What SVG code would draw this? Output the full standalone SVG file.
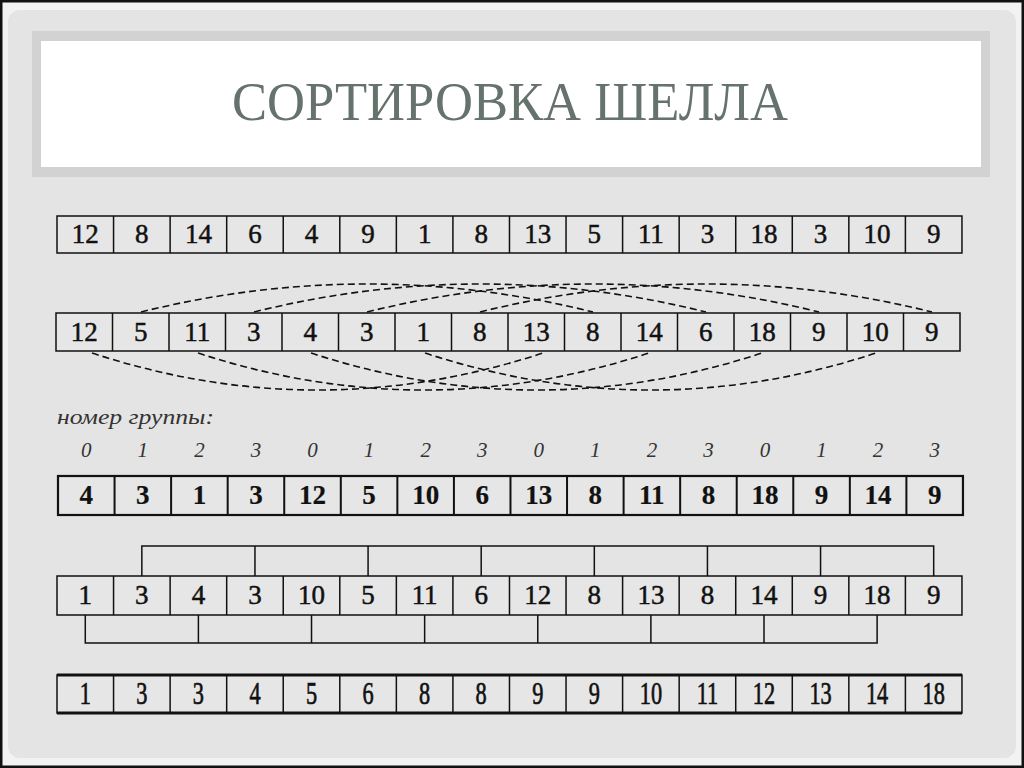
<svg xmlns="http://www.w3.org/2000/svg" width="1024" height="768" viewBox="0 0 1024 768">
<defs>
<style>
.cell{fill:#e6e6e6;stroke:#111;stroke-width:1.5}
.num{font-family:"Liberation Serif","Times New Roman",serif;font-size:27px;fill:#111;stroke:#111;stroke-width:0.5;text-anchor:middle}
.b{font-weight:bold;stroke-width:0.2}
.n5{font-family:"Liberation Serif","Times New Roman",serif;font-size:31px;fill:#111;stroke:#111;stroke-width:0.7;text-anchor:middle}
.grp{font-family:"Liberation Serif","Times New Roman",serif;font-style:italic;font-size:21px;fill:#333;text-anchor:middle}
.dash{fill:none;stroke:#111;stroke-width:1.6;stroke-dasharray:7 4}
.br{fill:none;stroke:#111;stroke-width:1.5}
.thick{stroke:#111;stroke-width:3}
</style>
</defs>
<rect x="0" y="0" width="1024" height="768" fill="#f2f2f2"/>
<rect x="1" y="1" width="1022" height="766" fill="none" stroke="#111" stroke-width="3"/>
<rect x="8" y="10" width="1008" height="748" rx="12" fill="#e4e4e4"/>
<g id="title">
<rect x="32" y="31" width="958" height="146" fill="#d2d2d2"/>
<rect x="41" y="41" width="940" height="126" fill="#ffffff"/>
<text x="510" y="120" text-anchor="middle" textLength="556" lengthAdjust="spacingAndGlyphs" style="font-family:'Liberation Serif','Times New Roman',serif;font-size:55px;fill:#66726c">СОРТИРОВКА ШЕЛЛА</text>
</g>

<g id="row1">
<rect class="cell" x="57" y="216" width="904.96" height="37"/>
<path class="br" d="M113.56,216V253M170.12,216V253M226.68,216V253M283.24,216V253M339.8,216V253M396.36,216V253M452.92,216V253M509.48,216V253M566.04,216V253M622.6,216V253M679.16,216V253M735.72,216V253M792.28,216V253M848.84,216V253M905.4,216V253"/>
<text class="num" x="85.28" y="243">12</text>
<text class="num" x="141.84" y="243">8</text>
<text class="num" x="198.4" y="243">14</text>
<text class="num" x="254.96" y="243">6</text>
<text class="num" x="311.52" y="243">4</text>
<text class="num" x="368.08" y="243">9</text>
<text class="num" x="424.64" y="243">1</text>
<text class="num" x="481.2" y="243">8</text>
<text class="num" x="537.76" y="243">13</text>
<text class="num" x="594.32" y="243">5</text>
<text class="num" x="650.88" y="243">11</text>
<text class="num" x="707.44" y="243">3</text>
<text class="num" x="764" y="243">18</text>
<text class="num" x="820.56" y="243">3</text>
<text class="num" x="877.12" y="243">10</text>
<text class="num" x="933.68" y="243">9</text>
</g>

<g id="row2">
<rect class="cell" x="56" y="313" width="904" height="38"/>
<path class="br" d="M112.5,313V351M169,313V351M225.5,313V351M282,313V351M338.5,313V351M395,313V351M451.5,313V351M508,313V351M564.5,313V351M621,313V351M677.5,313V351M734,313V351M790.5,313V351M847,313V351M903.5,313V351"/>
<text class="num" x="84.25" y="341">12</text>
<text class="num" x="140.75" y="341">5</text>
<text class="num" x="197.25" y="341">11</text>
<text class="num" x="253.75" y="341">3</text>
<text class="num" x="310.25" y="341">4</text>
<text class="num" x="366.75" y="341">3</text>
<text class="num" x="423.25" y="341">1</text>
<text class="num" x="479.75" y="341">8</text>
<text class="num" x="536.25" y="341">13</text>
<text class="num" x="592.75" y="341">8</text>
<text class="num" x="649.25" y="341">14</text>
<text class="num" x="705.75" y="341">6</text>
<text class="num" x="762.25" y="341">18</text>
<text class="num" x="818.75" y="341">9</text>
<text class="num" x="875.25" y="341">10</text>
<text class="num" x="931.75" y="341">9</text>
</g>

<g id="arcs">
<path class="dash" d="M141,312 Q367,256 593,312"/>
<path class="dash" d="M254,312 Q480,256 706,312"/>
<path class="dash" d="M367,312 Q593,256 819,312"/>
<path class="dash" d="M480,312 Q706,256 932,312"/>
<path class="dash" d="M92,353 Q317,427 543,353"/>
<path class="dash" d="M198,353 Q424,427 649,353"/>
<path class="dash" d="M311,353 Q537,427 762,353"/>
<path class="dash" d="M425,353 Q651,427 876,353"/>
</g>

<g id="groups-label">
<text x="57" y="424" textLength="157" lengthAdjust="spacingAndGlyphs" style="font-family:'Liberation Serif','Times New Roman',serif;font-style:italic;font-size:21px;fill:#333">номер группы:</text>
<text class="grp" x="86.28" y="457">0</text>
<text class="grp" x="142.84" y="457">1</text>
<text class="grp" x="199.4" y="457">2</text>
<text class="grp" x="255.96" y="457">3</text>
<text class="grp" x="312.52" y="457">0</text>
<text class="grp" x="369.08" y="457">1</text>
<text class="grp" x="425.64" y="457">2</text>
<text class="grp" x="482.2" y="457">3</text>
<text class="grp" x="538.76" y="457">0</text>
<text class="grp" x="595.32" y="457">1</text>
<text class="grp" x="651.88" y="457">2</text>
<text class="grp" x="708.44" y="457">3</text>
<text class="grp" x="765" y="457">0</text>
<text class="grp" x="821.56" y="457">1</text>
<text class="grp" x="878.12" y="457">2</text>
<text class="grp" x="934.68" y="457">3</text>
</g>

<g id="row3">
<rect class="cell" x="58" y="476" width="904.96" height="39" style="stroke-width:2.2"/>
<path class="br" style="stroke-width:2" d="M114.56,476V515M171.12,476V515M227.68,476V515M284.24,476V515M340.8,476V515M397.36,476V515M453.92,476V515M510.48,476V515M567.04,476V515M623.6,476V515M680.16,476V515M736.72,476V515M793.28,476V515M849.84,476V515M906.4,476V515"/>
<text class="num b" x="86.28" y="504">4</text>
<text class="num b" x="142.84" y="504">3</text>
<text class="num b" x="199.4" y="504">1</text>
<text class="num b" x="255.96" y="504">3</text>
<text class="num b" x="312.52" y="504">12</text>
<text class="num b" x="369.08" y="504">5</text>
<text class="num b" x="425.64" y="504">10</text>
<text class="num b" x="482.2" y="504">6</text>
<text class="num b" x="538.76" y="504">13</text>
<text class="num b" x="595.32" y="504">8</text>
<text class="num b" x="651.88" y="504">11</text>
<text class="num b" x="708.44" y="504">8</text>
<text class="num b" x="765" y="504">18</text>
<text class="num b" x="821.56" y="504">9</text>
<text class="num b" x="878.12" y="504">14</text>
<text class="num b" x="934.68" y="504">9</text>
</g>

<g id="brackets">
<path class="br" d="M141.84,576V546H933.68V576M254.96,546V576M368.08,546V576M481.2,546V576M594.32,546V576M707.44,546V576M820.56,546V576"/>
<path class="br" d="M85.28,615V643H877.12V615M198.4,643V615M311.52,643V615M424.64,643V615M537.76,643V615M650.88,643V615M764,643V615"/>
</g>

<g id="row4">
<rect class="cell" x="57" y="576" width="904.96" height="39"/>
<path class="br" d="M113.56,576V615M170.12,576V615M226.68,576V615M283.24,576V615M339.8,576V615M396.36,576V615M452.92,576V615M509.48,576V615M566.04,576V615M622.6,576V615M679.16,576V615M735.72,576V615M792.28,576V615M848.84,576V615M905.4,576V615"/>
<text class="num" x="85.28" y="604">1</text>
<text class="num" x="141.84" y="604">3</text>
<text class="num" x="198.4" y="604">4</text>
<text class="num" x="254.96" y="604">3</text>
<text class="num" x="311.52" y="604">10</text>
<text class="num" x="368.08" y="604">5</text>
<text class="num" x="424.64" y="604">11</text>
<text class="num" x="481.2" y="604">6</text>
<text class="num" x="537.76" y="604">12</text>
<text class="num" x="594.32" y="604">8</text>
<text class="num" x="650.88" y="604">13</text>
<text class="num" x="707.44" y="604">8</text>
<text class="num" x="764" y="604">14</text>
<text class="num" x="820.56" y="604">9</text>
<text class="num" x="877.12" y="604">18</text>
<text class="num" x="933.68" y="604">9</text>
</g>

<g id="row5">
<rect class="cell" x="57" y="675" width="904.96" height="38"/>
<path class="thick" d="M57,675H962M57,713H962"/>
<path class="br" d="M113.56,675V713M170.12,675V713M226.68,675V713M283.24,675V713M339.8,675V713M396.36,675V713M452.92,675V713M509.48,675V713M566.04,675V713M622.6,675V713M679.16,675V713M735.72,675V713M792.28,675V713M848.84,675V713M905.4,675V713"/>
<text class="n5" transform="translate(85.28,704) scale(0.72,1)">1</text>
<text class="n5" transform="translate(141.84,704) scale(0.72,1)">3</text>
<text class="n5" transform="translate(198.4,704) scale(0.72,1)">3</text>
<text class="n5" transform="translate(254.96,704) scale(0.72,1)">4</text>
<text class="n5" transform="translate(311.52,704) scale(0.72,1)">5</text>
<text class="n5" transform="translate(368.08,704) scale(0.72,1)">6</text>
<text class="n5" transform="translate(424.64,704) scale(0.72,1)">8</text>
<text class="n5" transform="translate(481.2,704) scale(0.72,1)">8</text>
<text class="n5" transform="translate(537.76,704) scale(0.72,1)">9</text>
<text class="n5" transform="translate(594.32,704) scale(0.72,1)">9</text>
<text class="n5" transform="translate(650.88,704) scale(0.72,1)">10</text>
<text class="n5" transform="translate(707.44,704) scale(0.72,1)">11</text>
<text class="n5" transform="translate(764,704) scale(0.72,1)">12</text>
<text class="n5" transform="translate(820.56,704) scale(0.72,1)">13</text>
<text class="n5" transform="translate(877.12,704) scale(0.72,1)">14</text>
<text class="n5" transform="translate(933.68,704) scale(0.72,1)">18</text>
</g>
</svg>
